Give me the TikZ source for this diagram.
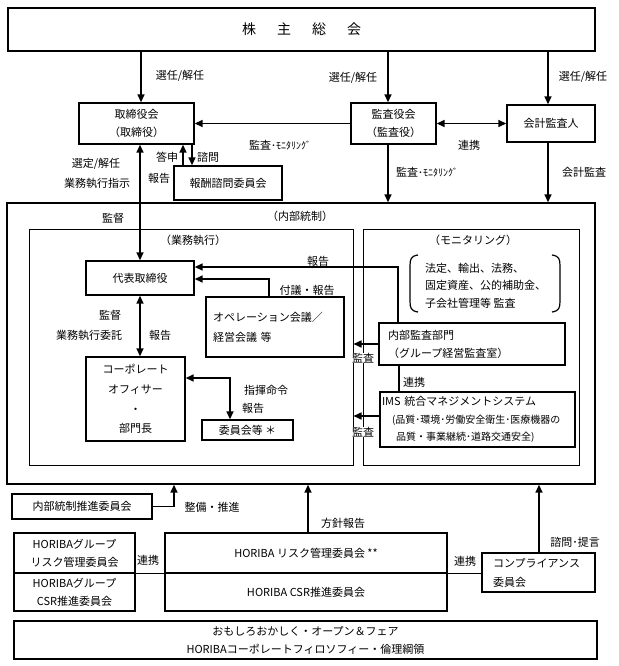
\documentclass[tikz,border=0pt]{standalone}
\usepackage{fontspec}
\setmainfont{Noto Sans CJK JP}
\usetikzlibrary{arrows.meta}
\newcommand\jf[2]{\fontsize{#1}{#2}\selectfont}
\begin{document}
\begin{tikzpicture}[x=1pt,y=-1pt,
  box/.style={draw, line width=1.4pt, inner sep=0pt, align=center, font=\jf{11}{18}},
  ibox/.style={draw, line width=1pt, inner sep=0pt},
  lbl/.style={inner sep=1pt, font=\jf{11}{18}},
  slbl/.style={inner sep=1pt, font=\jf{10.5}{18}},
  arr/.style={line width=1.5pt, -{Triangle[length=8pt,width=7pt]}},
  darr/.style={line width=1.5pt, {Triangle[length=8pt,width=7pt]}-{Triangle[length=8pt,width=7pt]}},
  ln/.style={line width=1.3pt}]
\useasboundingbox[fill=white] (0,0) rectangle (618,666);
% boxes
\node[box, minimum width=587pt, minimum height=43pt, font=\jf{14}{18}] (top) at (301.5,29.5) {株\hspace{21pt}主\hspace{21pt}総\hspace{21pt}会};
\node[box, minimum width=115pt, minimum height=41pt] (tori) at (136.5,123.5) {取締役会\\（取締役）};
\node[box, minimum width=85pt, minimum height=41pt] (kansa) at (393.5,123.5) {監査役会\\（監査役）};
\node[box, minimum width=88pt, minimum height=37pt] (kaikei) at (551,123.5) {会計監査人};
\node[box, minimum width=108pt, minimum height=34pt] (hoshu) at (228,183) {報酬諮問委員会};
\node[box, minimum width=588pt, minimum height=281pt] (outer) at (301,343.5) {};
\node[ibox, minimum width=324pt, minimum height=236pt] (exec) at (191,347) {};
\node[ibox, minimum width=216pt, minimum height=236pt] (mon) at (471,347) {};
\node[box, minimum width=108pt, minimum height=34pt] (daihyo) at (140,278) {代表取締役};
\node[box, text width=124pt, inner xsep=7pt, align=left, minimum height=60pt, font=\jf{11}{20}] (ops) at (275,327) {オペレーション会議／\\経営会議 等};
\node[box, minimum width=99pt, minimum height=84pt, font=\jf{11}{19.6}] (corp) at (135.5,399) {コーポレート\\オフィサー\\・\\部門長};
\node[box, minimum width=91pt, minimum height=20pt] (iinkai) at (247.5,430) {委員会等 ＊};
\node[box, text width=168pt, inner xsep=9pt, align=left, minimum height=42pt] (naibu) at (472,344) {内部監査部門\\（グループ経営監査室）};
\node[box, text width=191pt, inner xsep=2pt, align=left, minimum height=55pt, font=\jf{11}{17.5}] (ims) at (477.5,419.5) {IMS 統合マネジメントシステム\\\hspace*{10pt}{\jf{10}{17.5}(品質･環境･労働安全衛生･医療機器の}\\\hspace*{14pt}{\jf{10}{17.5}品質・事業継続･道路交通安全)}};
\node[box, minimum width=140pt, minimum height=25pt] (suishin) at (82,506.5) {内部統制推進委員会};
\node[box, minimum width=121pt, minimum height=40pt] (grp1) at (74.5,553) {HORIBAグループ\\リスク管理委員会};
\node[box, minimum width=121pt, minimum height=38pt] (grp2) at (74.5,592) {HORIBAグループ\\CSR推進委員会};
\node[box, minimum width=282pt, minimum height=40pt] (risk) at (306,553) {HORIBA リスク管理委員会 **};
\node[box, minimum width=282pt, minimum height=38pt] (csr) at (306,592) {HORIBA CSR推進委員会};
\node[box, text width=91pt, inner xsep=11pt, align=left, minimum height=39pt, font=\jf{11}{19}] (comp) at (538.5,572.5) {コンプライアンス\\委員会};
\node[box, minimum width=583pt, minimum height=38pt] (phil) at (305.5,640) {おもしろおかしく・オープン＆フェア\\HORIBAコーポレートフィロソフィー・倫理綱領};
% brackets
\draw[line width=1.2pt] (418,255) .. controls (411,256) and (410,259) .. (410,266) -- (410,301) .. controls (410,308) and (411,311) .. (418,312);
\draw[line width=1.2pt] (552,255) .. controls (559,256) and (560,259) .. (560,266) -- (560,301) .. controls (560,308) and (559,311) .. (552,312);
\node[lbl, anchor=west, align=left, font=\jf{11}{17.5}] (montext) at (424,285.5) {法定、輸出、法務、\\固定資産、公的補助金、\\子会社管理等 監査};
% connectors
\draw[arr] (top.south -| 141,0) -- (tori.north -| 141,0);
\draw[arr] (top.south -| 388,0) -- (kansa.north -| 388,0);
\draw[arr] (top.south -| 548,0) -- (kaikei.north -| 548,0);
\draw[arr] (kansa.west) -- (tori.east);
\draw[darr] (kansa.east) -- (kaikei.west);
\draw[arr] (kansa.south -| 388,0) -- (outer.north -| 388,0);
\draw[arr] (kaikei.south -| 548,0) -- (outer.north -| 548,0);
\draw[darr] (tori.south -| daihyo.north) -- (daihyo.north);
\draw[arr] (hoshu.north -| 183,0) -- (tori.south -| 183,0);
\draw[arr] (tori.south -| 192,0) -- (hoshu.north -| 192,0);
\draw[arr] (naibu.north -| 398,0) |- (daihyo.east |- 0,267);
\draw[arr] (ops.north -| 269,0) |- (daihyo.east |- 0,279);
\draw[darr] (daihyo.south) -- (corp.north -| daihyo.south);
\draw[darr] (corp.east |- 0,378) -| (iinkai.north -| 230,0);
\draw[arr] (naibu.west) -- (exec.east |- naibu.west);
\draw[arr] (ims.west |- 0,416) -- (exec.east |- 0,416);
\draw[ln] (naibu.south -| 399,0) -- (ims.north -| 399,0);
\draw[arr] (suishin.east) -| (outer.south -| 174,0);
\draw[arr] (risk.north -| 308,0) -- (outer.south -| 308,0);
\draw[arr] (comp.north -| 539,0) -- (outer.south -| 539,0);
\draw[ln] (grp1.south east) -- (risk.south west);
\draw[ln] (risk.south east) -- (comp.west |- risk.south east);
% labels
\node[lbl] (l1) at (180,76) {選任/解任};
\node[lbl] (l2) at (353,78) {選任/解任};
\node[lbl] (l3) at (583,77) {選任/解任};
\node[lbl] (l4) at (280,145) {監査{\jf{10}{18}･ﾓﾆﾀﾘﾝｸﾞ}};
\node[lbl] (l5) at (469,145) {連携};
\node[lbl] (l6) at (96,164) {選定/解任};
\node[lbl] (l7) at (97,183) {業務執行指示};
\node[lbl] (l8) at (159,178) {報告};
\node[lbl] (l9) at (167,157) {答申};
\node[lbl] (l10) at (208,157) {諮問};
\node[lbl] (l11) at (427,172) {監査{\jf{10}{18}･ﾓﾆﾀﾘﾝｸﾞ}};
\node[lbl] (l12) at (584,172) {会計監査};
\node[lbl] (l13) at (113,218) {監督};
\node[lbl] (l14) at (300,216) {（内部統制）};
\node[lbl] (l15) at (193,240) {（業務執行）};
\node[lbl] (l16) at (473,240) {（モニタリング）};
\node[lbl] (l17) at (318,261) {報告};
\node[lbl] (l18) at (307,290) {付議・報告};
\node[lbl] (l19) at (110,315) {監督};
\node[lbl] (l20) at (89,335) {業務執行委託};
\node[lbl] (l21) at (160,335) {報告};
\node[lbl] (l22) at (266,390) {指揮命令};
\node[lbl] (l23) at (253,408) {報告};
\node[lbl, fill=white, inner sep=0.5pt] (l24) at (363,358) {監査};
\node[lbl, fill=white, inner sep=0.5pt] (l25) at (363,432) {監査};
\node[lbl] (l26) at (414,382) {連携};
\node[lbl] (l27) at (212,507) {整備・推進};
\node[lbl] (l28) at (343,523) {方針報告};
\node[lbl] (l29) at (148,560) {連携};
\node[lbl] (l30) at (465,561) {連携};
\node[lbl] (l31) at (575,542) {諮問･提言};
\end{tikzpicture}
\end{document}
